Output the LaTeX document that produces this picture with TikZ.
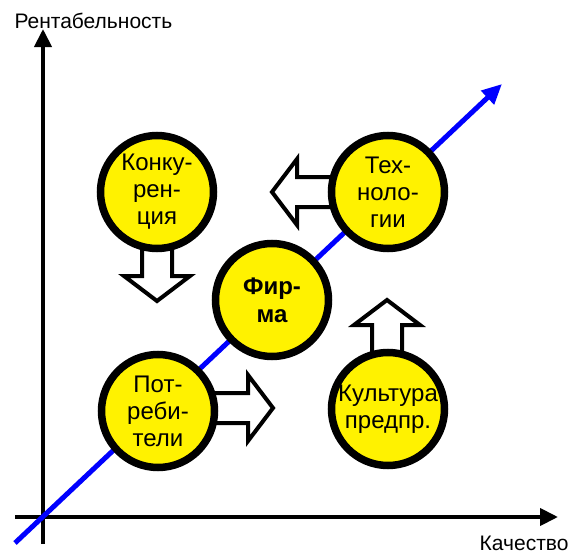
\documentclass[tikz,border=0pt]{standalone}
\usepackage{fontspec}
\setmainfont{Liberation Sans}
\usetikzlibrary{arrows.meta}

\tikzset{
  axis/.style={line width=4pt,-{Triangle[length=18pt,width=17pt]}},
  factor/.style={circle,draw,line width=7.5pt,fill=yellow,minimum size=113pt,
    inner sep=0pt,align=center,font=\fontsize{24}{27}\selectfont},
  blockarrow/.pic={
    \draw[line width=4pt,fill=white,miter limit=4]
      (0,0) -- (-25,-33) -- (-25,-15) -- (-62,-15) -- (-62,15) -- (-25,15) -- (-25,33) -- cycle;
  }
}

\begin{document}
\begin{tikzpicture}[x=1pt,y=-1pt]
    \useasboundingbox (0,0) rectangle (574,554);
    % Axes.
    \coordinate (ybottom) at (43,544);
    \coordinate (ytop) at (43,29);
    \coordinate (xleft) at (15,517);
    \coordinate (xright) at (558,517);
    \draw[axis] (ybottom) -- (ytop);
    \draw[axis] (xleft) -- (xright);
    \node[anchor=base west,font=\fontsize{21}{24}\selectfont] (ylabel) at (11,28) {Рентабельность};
    \node[anchor=base east,font=\fontsize{21}{24}\selectfont] (xlabel) at (572,550) {Качество};
    % Quality line.
    \coordinate (bstart) at (15,543);
    \coordinate (bend) at (502,84);
    \draw[blue,line width=5pt,-{Triangle[length=20pt,width=18pt]}] (bstart) -- (bend);
    % Arrows.
    \pic[rotate=180] at (272,192) {blockarrow};
    \pic[rotate=-90] at (157,301) {blockarrow};
    \pic at (273,408) {blockarrow};
    \pic[rotate=90] at (387,300) {blockarrow};
    % Factors.
    \node[factor] (conc) at (157,192) {Конку-\\рен-\\ция};
    \node[factor] (tech) at (388,192) {Тех-\\ноло-\\гии};
    \node[factor,font=\fontsize{24}{28}\selectfont\bfseries] (firm) at (272,300) {Фир-\\ма};
    \node[factor] (cons) at (158,411) {Пот-\\реби-\\тели};
    \node[factor] (cult) at (388,409) {Культура\\предпр.};
  \end{tikzpicture}
\end{document}
